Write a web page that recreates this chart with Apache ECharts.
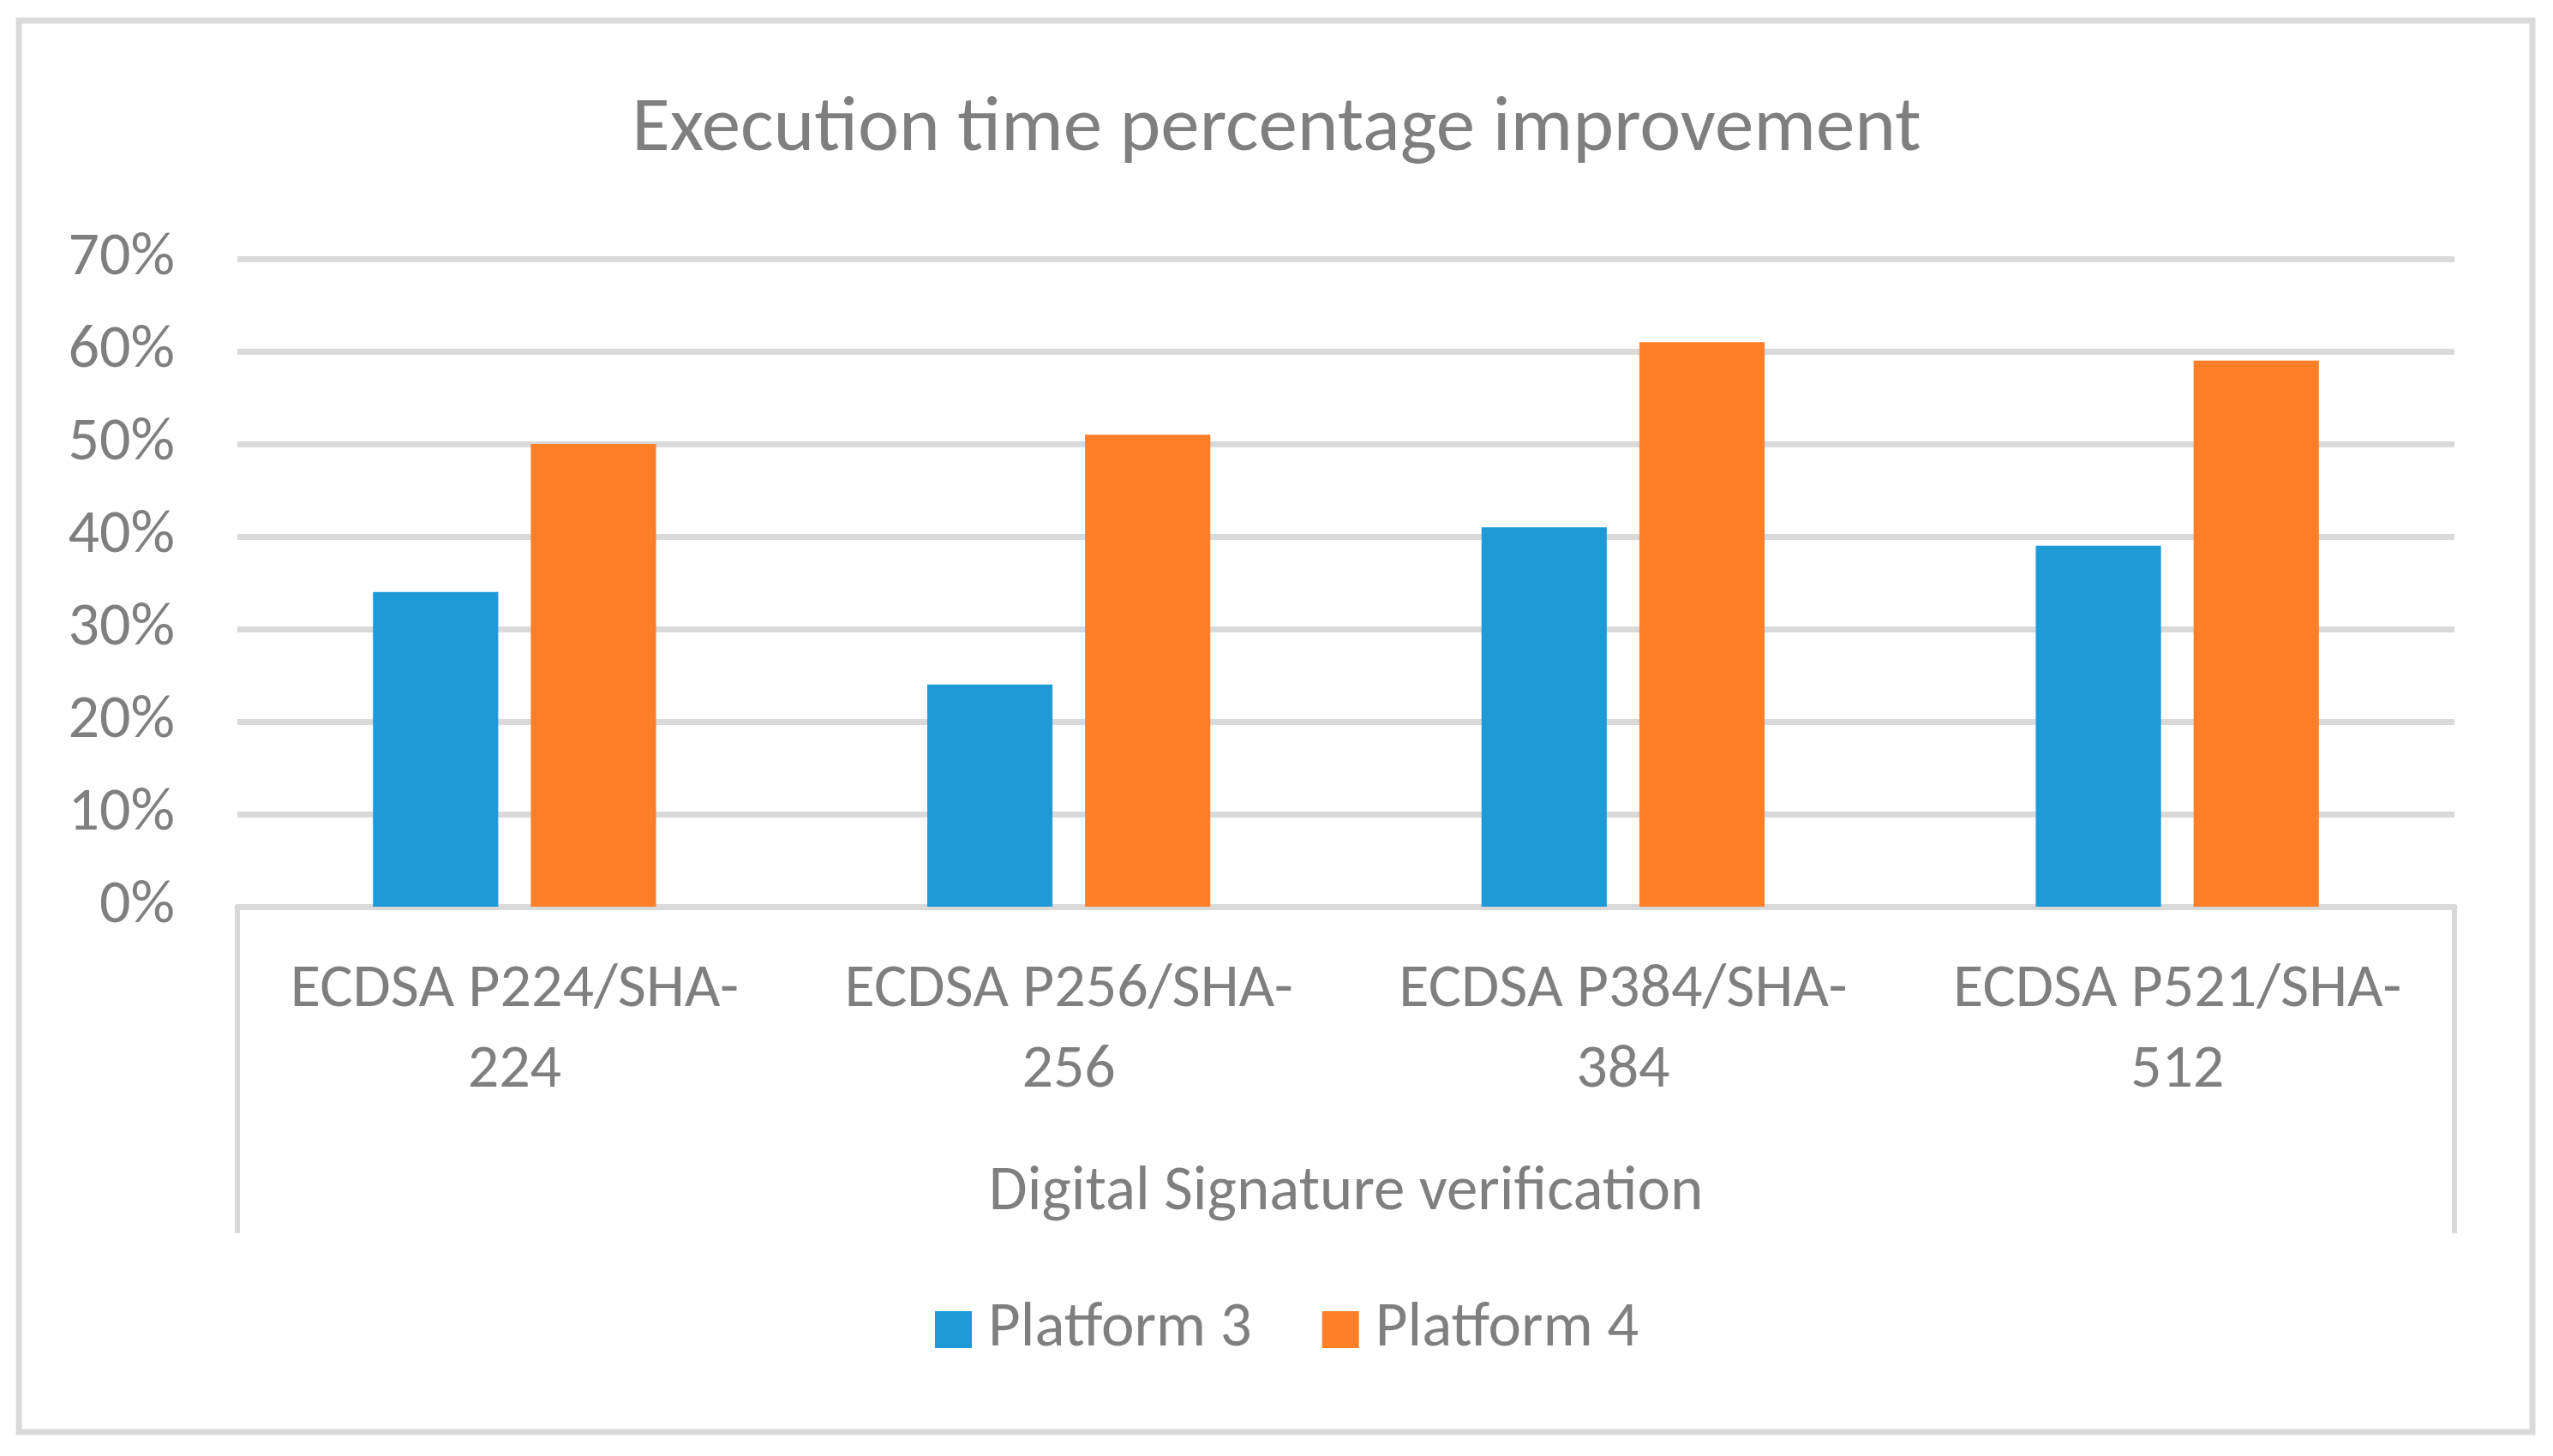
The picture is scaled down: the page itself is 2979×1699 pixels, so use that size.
<!DOCTYPE html>
<html>
<head>
<meta charset="utf-8">
<script src="https://cdn.jsdelivr.net/npm/echarts@6/dist/echarts.min.js"></script>
<style>
html,body{margin:0;padding:0;background:#fff;}
#chart{width:2979px;height:1699px;}
</style>
</head>
<body>
<div id="chart"></div>
<script>
const categories = ['ECDSA P224/SHA-\n224', 'ECDSA P256/SHA-\n256', 'ECDSA P384/SHA-\n384', 'ECDSA P521/SHA-\n512'];
const groupLabel = ['Digital Signature verification'];
const platform3 = [0.34, 0.24, 0.41, 0.39];
const platform4 = [0.50, 0.51, 0.61, 0.59];
const seriesNames = ['Platform 3', 'Platform 4'];
const titleText = 'Execution time percentage improvement';

const FONT = 'Carlito, Lato, sans-serif';
const GREY = '#7f7f7f';
const LINE = '#d9d9d9';

const chart = echarts.init(document.getElementById('chart'));
chart.setOption({
  backgroundColor: '#ffffff',
  animation: false,
  title: {
    text: titleText,
    left: 'center',
    top: 102,
    textStyle: { fontFamily: FONT, fontSize: 91, fontWeight: 'normal', color: GREY }
  },
  legend: {
    data: seriesNames,
    left: 1086,
    top: 1510,
    itemWidth: 43,
    itemHeight: 43,
    itemGap: 82,
    icon: 'rect',
    textStyle: { fontFamily: FONT, fontSize: 73, color: GREY, padding: [0, 0, 0, 14] }
  },
  grid: { left: 277, right: 115, top: 302, bottom: 641, containLabel: false },
  xAxis: [
    {
      type: 'category',
      data: categories,
      position: 'bottom',
      axisLine: { show: true, lineStyle: { color: LINE, width: 7 } },
      axisTick: { show: false },
      axisLabel: { fontFamily: FONT, fontSize: 72, color: GREY, lineHeight: 94, margin: 51, interval: 0 }
    },
    {
      type: 'category',
      data: groupLabel,
      position: 'bottom',
      axisLine: { show: false },
      axisTick: { show: true, length: 381, lineStyle: { color: LINE, width: 6 } },
      axisLabel: { fontFamily: FONT, fontSize: 73, color: GREY, margin: 298 }
    }
  ],
  yAxis: {
    type: 'value',
    min: 0,
    max: 0.7,
    interval: 0.1,
    axisLine: { show: false },
    axisTick: { show: false },
    splitLine: { lineStyle: { color: LINE, width: 7 } },
    axisLabel: {
      fontFamily: FONT, fontSize: 72, color: GREY, margin: 73,
      formatter: v => Math.round(v * 100) + '%'
    }
  },
  series: [
    { name: seriesNames[0], type: 'bar', data: platform3, xAxisIndex: 0, barWidth: '22.6%', barGap: '26%', itemStyle: { color: '#1e9bd7' } },
    { name: seriesNames[1], type: 'bar', data: platform4, xAxisIndex: 0, barWidth: '22.6%', barGap: '26%', itemStyle: { color: '#fe7f27' } }
  ],
  graphic: [
    { type: 'rect', shape: { x: 22, y: 24, width: 2933, height: 1647 }, style: { fill: null, stroke: LINE, lineWidth: 7 }, silent: true, z: -1 }
  ]
});
</script>
</body>
</html>
